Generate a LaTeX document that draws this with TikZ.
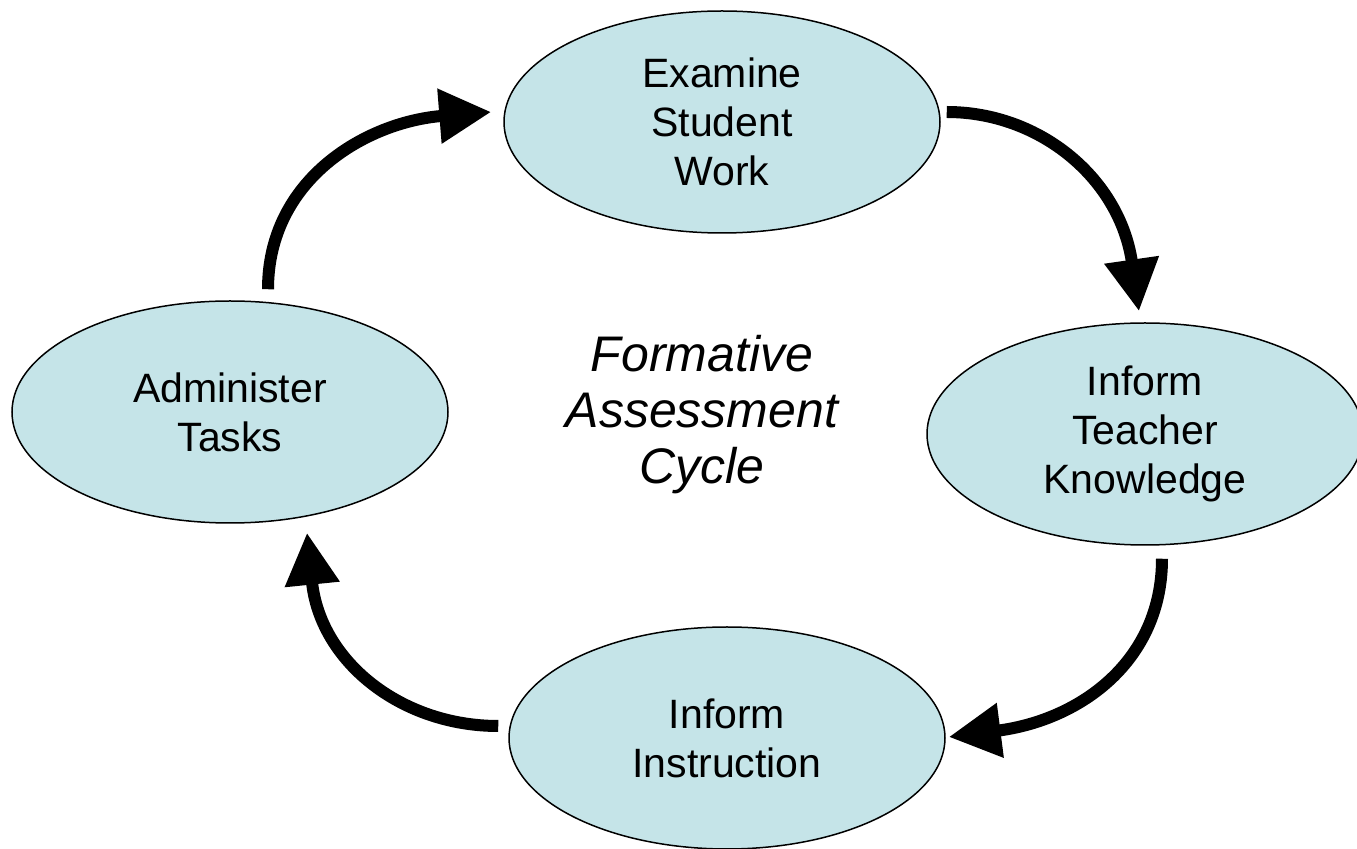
\documentclass[tikz,border=0pt]{standalone}
\usepackage{fontspec}
\setmainfont{Liberation Sans}
\usetikzlibrary{arrows.meta,calc,shapes.geometric}
\definecolor{cellfill}{RGB}{197,228,232}
\begin{document}
\begin{tikzpicture}[x=0.5pt,y=-0.5pt,
  stage/.style={ellipse, draw=black, line width=0.75pt, fill=cellfill,
    minimum width=218pt, minimum height=111pt, inner sep=0pt, align=center,
    font=\fontsize{20.5pt}{24.5pt}\selectfont},
  flow/.style={line width=6pt, -{Triangle[length=26pt,width=26pt]}}]
\useasboundingbox (0,0) rectangle (1357,849);

\node[stage] (exa) at (722,122) {Examine\\Student\\Work};
\node[stage] (adm) at (230,412) {Administer\\Tasks};
\node[stage] (tea) at (1145,434) {Inform\\Teacher\\Knowledge};
\node[stage] (ins) at (727,738) {Inform\\Instruction};

\node[align=center, font=\itshape\fontsize{25pt}{28pt}\selectfont] (title) at (702,415) {Formative\\Assessment\\Cycle};

\draw[flow] ($(adm.north)+(38,-11)$) .. controls +(0,-110) and +(-125,10) .. ($(exa.west)+(-12,-10)$);
\draw[flow] ($(exa.east)+(6,-10)$) .. controls +(94,0) and +(-19,-132) .. ($(tea.north)+(-6,-11)$);
\draw[flow] ($(tea.south)+(17,13)$) .. controls +(0,102) and +(132,-17) .. ($(ins.east)+(3,-1)$);
\draw[flow] ($(ins.west)+(-10,-12)$) .. controls +(-98,0) and +(13,128) .. ($(adm.south)+(77,9)$);
\end{tikzpicture}
\end{document}
